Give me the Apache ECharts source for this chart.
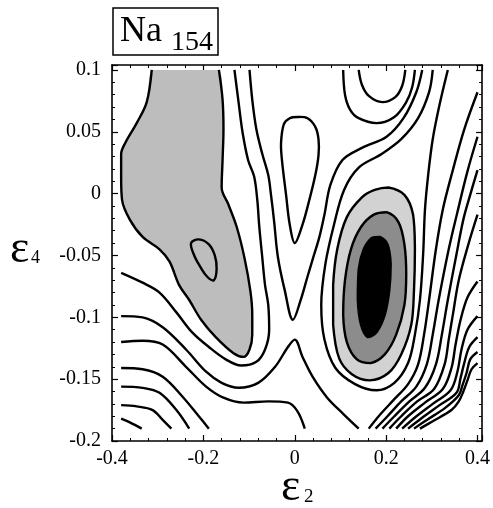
<!DOCTYPE html>
<html><head><meta charset="utf-8">
<script src="https://cdn.jsdelivr.net/npm/echarts/dist/echarts.min.js"></script>
<style>html,body{margin:0;padding:0;background:#fff}#c{width:493px;height:508px}</style>
</head><body><div id="c"></div>
<script>
// ---- axis ticks ----
const xTicks = [-0.4, -0.2, 0, 0.2, 0.4];
const xTickLabels = ['-0.4', '-0.2', '0', '0.2', '0.4'];
const yTicks = [-0.2, -0.15, -0.1, -0.05, 0, 0.05, 0.1];
const yTickLabels = ['-0.2', '-0.15', '-0.1', '-0.05', '0', '0.05', '0.1'];
const titleMain = 'Na', titleSub = '154';
const xName = 'ε', xNameSub = '2', yName = 'ε', yNameSub = '4';

// ---- filled regions (eps2, eps4) ----
const grayLeft = [[-0.313,0.1],[-0.324,0.074],[-0.346,0.057],[-0.371,0.041],[-0.38,0.032],[-0.38,0.013],[-0.378,-0.005],[-0.361,-0.021],[-0.333,-0.035],[-0.296,-0.045],[-0.274,-0.055],[-0.253,-0.074],[-0.231,-0.086],[-0.205,-0.102],[-0.173,-0.116],[-0.134,-0.129],[-0.112,-0.132],[-0.099,-0.126],[-0.093,-0.114],[-0.093,-0.098],[-0.097,-0.079],[-0.110,-0.052],[-0.127,-0.027],[-0.145,-0.009],[-0.160,0.005],[-0.158,0.027],[-0.156,0.052],[-0.158,0.076],[-0.166,0.1],[-0.2,0.1],[-0.24,0.1],[-0.28,0.1]];
const ringLight = [[0.205,0.005],[0.240,-0.001],[0.259,-0.017],[0.263,-0.045],[0.261,-0.078],[0.255,-0.106],[0.233,-0.130],[0.205,-0.145],[0.164,-0.151],[0.125,-0.146],[0.097,-0.133],[0.084,-0.106],[0.084,-0.074],[0.093,-0.045],[0.114,-0.019],[0.147,-0.003],[0.175,0.003]];
const ringDark = [[0.201,-0.015],[0.227,-0.023],[0.240,-0.041],[0.244,-0.065],[0.240,-0.090],[0.222,-0.114],[0.197,-0.130],[0.166,-0.137],[0.136,-0.134],[0.114,-0.120],[0.106,-0.098],[0.110,-0.070],[0.123,-0.045],[0.145,-0.027],[0.173,-0.017]];
const coreBlack = [[0.186,-0.035],[0.203,-0.041],[0.210,-0.057],[0.207,-0.078],[0.197,-0.098],[0.179,-0.112],[0.160,-0.116],[0.145,-0.106],[0.138,-0.086],[0.140,-0.061],[0.151,-0.045],[0.168,-0.036]];

// ---- closed contour loops ----
const loopLeftMin = [[-0.227,-0.040],[-0.210,-0.037],[-0.188,-0.041],[-0.175,-0.050],[-0.171,-0.061],[-0.177,-0.070],[-0.192,-0.067],[-0.207,-0.059],[-0.220,-0.050]];
const loopCentre = [[0,-0.040],[-0.011,-0.025],[-0.019,-0.001],[-0.028,0.027],[-0.030,0.041],[-0.024,0.056],[-0.011,0.061],[0.006,0.062],[0.028,0.061],[0.045,0.054],[0.052,0.044],[0.052,0.031],[0.045,0.015],[0.032,-0.005],[0.017,-0.025]];

// ---- open contour lines ----
const grayEdge = grayLeft.slice(0, 29);
const lineWrapLeft = [[-0.38,-0.064],[-0.333,-0.072],[-0.296,-0.080],[-0.259,-0.096],[-0.225,-0.112],[-0.188,-0.124],[-0.151,-0.134],[-0.117,-0.139],[-0.084,-0.136],[-0.065,-0.126],[-0.056,-0.110],[-0.058,-0.090],[-0.065,-0.074],[-0.071,-0.052],[-0.078,-0.025],[-0.082,-0.005],[-0.089,0.014],[-0.102,0.027],[-0.114,0.049],[-0.123,0.074],[-0.132,0.1]];
const lineV = [[-0.099,0.1],[-0.093,0.076],[-0.084,0.052],[-0.071,0.032],[-0.058,0.015],[-0.052,-0.001],[-0.045,-0.023],[-0.037,-0.051],[-0.022,-0.078],[-0.004,-0.102],[0.013,-0.086],[0.028,-0.067],[0.041,-0.051],[0.054,-0.035],[0.065,-0.017],[0.078,0.007],[0.104,0.027],[0.147,0.037],[0.201,0.046],[0.238,0.061],[0.266,0.082],[0.279,0.1]];
const lineTopU1 = [[0.106,0.1],[0.110,0.080],[0.121,0.068],[0.140,0.061],[0.179,0.057],[0.218,0.062],[0.244,0.074],[0.257,0.086],[0.263,0.1]];
const lineTopU2 = [[0.140,0.1],[0.147,0.088],[0.162,0.079],[0.192,0.074],[0.220,0.078],[0.235,0.087],[0.242,0.1]];
const lineBasinU = [[0.302,0.1],[0.294,0.082],[0.270,0.061],[0.233,0.044],[0.190,0.032],[0.140,0.021],[0.108,0.003],[0.086,-0.025],[0.067,-0.057],[0.058,-0.090],[0.065,-0.118],[0.089,-0.141],[0.132,-0.154],[0.179,-0.159],[0.218,-0.153],[0.248,-0.137],[0.263,-0.114],[0.274,-0.086],[0.281,-0.049],[0.285,-0.013],[0.292,0.015],[0.302,0.044],[0.317,0.072],[0.335,0.1]];
const lineLambda = [[-0.38,-0.099],[-0.333,-0.100],[-0.289,-0.108],[-0.238,-0.126],[-0.194,-0.144],[-0.160,-0.153],[-0.123,-0.157],[-0.080,-0.153],[-0.043,-0.140],[-0.015,-0.124],[0,-0.118],[0.017,-0.132],[0.039,-0.148],[0.071,-0.165],[0.106,-0.178],[0.140,-0.19]];
const lineLambdaOuter = [[-0.38,-0.120],[-0.333,-0.119],[-0.289,-0.122],[-0.238,-0.140],[-0.194,-0.156],[-0.156,-0.165],[-0.112,-0.169],[-0.058,-0.168],[-0.015,-0.169],[0.006,-0.176],[0.022,-0.19]];
const lineLow1 = [[-0.38,-0.141],[-0.333,-0.142],[-0.289,-0.148],[-0.246,-0.164],[-0.210,-0.180],[-0.188,-0.19]];
const lineLow2 = [[-0.38,-0.156],[-0.333,-0.157],[-0.296,-0.161],[-0.259,-0.175],[-0.231,-0.19]];
const lineLow3 = [[-0.38,-0.171],[-0.346,-0.172],[-0.311,-0.175],[-0.289,-0.183],[-0.270,-0.19]];
const lineLow4 = [[-0.38,-0.182],[-0.361,-0.185],[-0.335,-0.19]];
const lineRight1 = [[0.400,0.082],[0.371,0.052],[0.346,0.019],[0.324,-0.013],[0.309,-0.045],[0.294,-0.086],[0.283,-0.114],[0.270,-0.138],[0.248,-0.154],[0.216,-0.167],[0.186,-0.179],[0.162,-0.19]];
const lineRight2 = [[0.400,0.046],[0.378,0.018],[0.356,-0.015],[0.337,-0.045],[0.315,-0.086],[0.302,-0.114],[0.289,-0.138],[0.266,-0.156],[0.233,-0.168],[0.203,-0.180],[0.177,-0.19]];
const lineRight3 = [[0.400,0.019],[0.384,-0.001],[0.369,-0.021],[0.354,-0.049],[0.335,-0.086],[0.322,-0.114],[0.309,-0.138],[0.285,-0.157],[0.251,-0.168],[0.218,-0.180],[0.192,-0.19]];
const lineRight4 = [[0.400,-0.017],[0.380,-0.041],[0.359,-0.070],[0.346,-0.098],[0.337,-0.118],[0.328,-0.138],[0.305,-0.158],[0.268,-0.168],[0.233,-0.180],[0.207,-0.19]];
const lineFan1 = [[0.400,-0.071],[0.378,-0.084],[0.363,-0.102],[0.352,-0.122],[0.343,-0.141],[0.324,-0.158],[0.285,-0.169],[0.248,-0.180],[0.222,-0.19]];
const lineFan2 = [[0.400,-0.099],[0.378,-0.110],[0.365,-0.126],[0.356,-0.144],[0.341,-0.159],[0.302,-0.170],[0.263,-0.181],[0.235,-0.19]];
const lineFan3 = [[0.400,-0.116],[0.382,-0.124],[0.371,-0.137],[0.363,-0.149],[0.354,-0.161],[0.317,-0.171],[0.276,-0.182],[0.248,-0.19]];
const lineFan4 = [[0.400,-0.128],[0.384,-0.134],[0.376,-0.145],[0.367,-0.155],[0.359,-0.163],[0.330,-0.173],[0.289,-0.183],[0.261,-0.19]];
const lineFan5 = [[0.400,-0.137],[0.387,-0.142],[0.378,-0.151],[0.369,-0.160],[0.359,-0.168],[0.343,-0.175],[0.302,-0.184],[0.274,-0.19]];

const fills = [
  {pts: grayLeft, color: '#bdbdbd', closedStroke: false},
  {pts: ringLight, color: '#d2d2d2', closedStroke: true},
  {pts: ringDark, color: '#8c8c8c', closedStroke: true},
  {pts: coreBlack, color: '#000000', closedStroke: true}
];
const closedLines = [loopLeftMin, loopCentre];
const openLines = [grayEdge, lineWrapLeft, lineV, lineTopU1, lineTopU2, lineBasinU, lineLambda, lineLambdaOuter,
  lineLow1, lineLow2, lineLow3, lineLow4, lineRight1, lineRight2, lineRight3, lineRight4,
  lineFan1, lineFan2, lineFan3, lineFan4, lineFan5];

const LW = 2.4, SM = 0.35;
const FONT = '"Liberation Serif", "Times New Roman", serif';

function fmt(ticks, labels) {
  return function (v) {
    for (let i = 0; i < ticks.length; i++) if (Math.abs(v - ticks[i]) < 1e-6) return labels[i];
    return '';
  };
}
function bounds(pts) {
  let x0 = Infinity, y0 = Infinity, x1 = -Infinity, y1 = -Infinity;
  pts.forEach(p => { x0 = Math.min(x0, p[0]); y0 = Math.min(y0, p[1]); x1 = Math.max(x1, p[0]); y1 = Math.max(y1, p[1]); });
  return [[x0, y0], [x1, y1]];
}

const series = [];
fills.forEach((f, i) => {
  series.push({
    type: 'custom', coordinateSystem: 'cartesian2d', silent: true, z: 2 + i,
    data: [[0, 0]],
    renderItem: function (params, api) {
      const pts = f.pts.map(p => api.coord(p));
      return {type: 'polygon', shape: {points: pts, smooth: SM, smoothConstraint: bounds(pts)},
        style: {fill: f.color, stroke: f.closedStroke ? '#000' : null, lineWidth: LW}};
    }
  });
});
closedLines.forEach(pts => {
  series.push({
    type: 'custom', coordinateSystem: 'cartesian2d', silent: true, z: 10,
    data: [[0, 0]],
    renderItem: function (params, api) {
      const p = pts.map(q => api.coord(q));
      return {type: 'polygon', shape: {points: p, smooth: SM}, style: {fill: null, stroke: '#000', lineWidth: LW}};
    }
  });
});
openLines.forEach(pts => {
  series.push({
    type: 'line', data: pts, showSymbol: false, smooth: SM, silent: true, z: 10,
    lineStyle: {color: '#000', width: LW}, animation: false
  });
});

const axisCommon = {
  axisLine: {show: true, onZero: false, lineStyle: {color: '#000', width: 1.6}},
  axisTick: {show: true, inside: true, length: 6, lineStyle: {color: '#000', width: 1.2}},
  minorTick: {show: true, splitNumber: 5, length: 3, lineStyle: {color: '#000', width: 1}},
  splitLine: {show: false}
};

const chart = echarts.init(document.getElementById('c'), null, {renderer: 'canvas'});
chart.setOption({
  animation: false,
  backgroundColor: '#fff',
  grid: {left: 112, right: 6, top: 65, bottom: 67},
  xAxis: [
    Object.assign({type: 'value', min: -0.4, max: 0.41, interval: 0.2, position: 'bottom',
      axisLabel: {show: true, margin: 8, fontSize: 20, fontFamily: FONT, color: '#000', formatter: fmt(xTicks, xTickLabels)}}, axisCommon),
    Object.assign({type: 'value', min: -0.4, max: 0.41, interval: 0.2, position: 'top', axisLabel: {show: false}}, axisCommon)
  ],
  yAxis: [
    Object.assign({type: 'value', min: -0.2, max: 0.104, interval: 0.05, position: 'left',
      axisLabel: {show: true, margin: 11, fontSize: 20, fontFamily: FONT, color: '#000', formatter: fmt(yTicks, yTickLabels)}}, axisCommon),
    Object.assign({type: 'value', min: -0.2, max: 0.104, interval: 0.05, position: 'right', axisLabel: {show: false}}, axisCommon)
  ],
  graphic: [
    {type: 'rect', shape: {x: 113, y: 8, width: 105, height: 47}, style: {fill: '#fff', stroke: '#000', lineWidth: 1.5}},
    {type: 'text', style: {x: 120, y: 32, text: titleMain, font: '36px ' + FONT, fill: '#000', verticalAlign: 'middle'}},
    {type: 'text', style: {x: 171, y: 43, text: titleSub, font: '28px ' + FONT, fill: '#000', verticalAlign: 'middle'}},
    {type: 'text', style: {x: 10, y: 250, text: yName, font: '46px ' + FONT, fill: '#000', verticalAlign: 'middle'}},
    {type: 'text', style: {x: 31, y: 258, text: yNameSub, font: '18px ' + FONT, fill: '#000', verticalAlign: 'middle'}},
    {type: 'text', style: {x: 281, y: 488, text: xName, font: '46px ' + FONT, fill: '#000', verticalAlign: 'middle'}},
    {type: 'text', style: {x: 304, y: 497, text: xNameSub, font: '19px ' + FONT, fill: '#000', verticalAlign: 'middle'}}
  ],
  series: series
});
</script></body></html>
